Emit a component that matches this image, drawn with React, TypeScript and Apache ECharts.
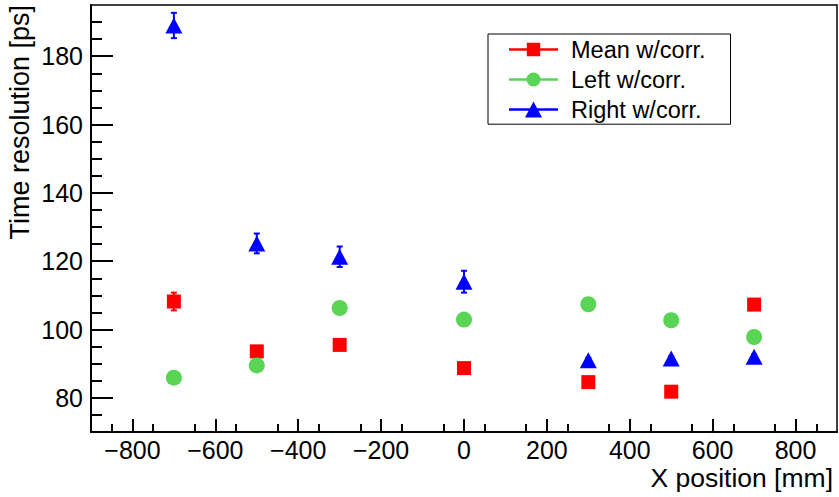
import React, { useEffect, useRef } from "react";
import * as echarts from "echarts";

const xPositions = [-700, -500, -300, 0, 300, 500, 700];
const meanValues = [108.2, 93.6, 95.5, 88.7, 84.6, 81.8, 107.3];
const meanErrors = [2.6, 1.5, 1.5, 1.5, 1.5, 1.5, 1.5];
const leftValues = [85.9, 89.5, 106.3, 102.9, 107.4, 102.7, 97.8];
const leftErrors = [1.5, 1.5, 1.5, 1.5, 1.5, 1.5, 1.5];
const rightValues = [189.0, 125.2, 121.3, 114.0, 91.0, 91.5, 92.0];
const rightErrors = [3.7, 2.9, 3.0, 3.2, 0.7, 0.7, 0.7];

const xMajorTicks = [-800, -600, -400, -200, 0, 200, 400, 600, 800];
const xMinorTicks = [-850, -750, -650, -550, -450, -350, -250, -150, -50, 50, 150, 250, 350, 450, 550, 650, 750, 850];
const yMajorTicks = [80, 100, 120, 140, 160, 180];
const yMinorTicks = [75, 85, 90, 95, 105, 110, 115, 125, 130, 135, 145, 150, 155, 165, 170, 175, 185, 190];

const seriesNames = ["Mean w/corr.", "Left w/corr.", "Right w/corr."];
const seriesColors = ["#ff0000", "#59d454", "#0000ff"];

const FONT = "Liberation Sans, Arial, Helvetica, sans-serif";

const iconSquare =
  "path://M0 0 L0 0 M49 16 L49 16 M0 6.8 L49 6.8 L49 9.2 L0 9.2 Z M17.8 1.3 L31.2 1.3 L31.2 14.7 L17.8 14.7 Z";
const iconCircle =
  "path://M0 0 L0 0 M49 16 L49 16 M0 6.8 L49 6.8 L49 9.2 L0 9.2 Z M31.5 8 A7 7 0 1 1 17.5 8 A7 7 0 1 1 31.5 8 Z";
const iconTriangle =
  "path://M0 0 L0 0 M49 16 L49 16 M0 6.8 L49 6.8 L49 9.2 L0 9.2 Z M24.5 0 L33 16 L16 16 Z";

function minusFmt(v: number) {
  return String(v).replace("-", "\u2212");
}

function errorSeries(values: number[], errors: number[], color: string) {
  return {
    type: "custom",
    silent: true,
    z: 1,
    data: xPositions.map((x, i) => [x, values[i], errors[i]]),
    encode: { x: 0, y: 1 },
    renderItem: (params: any, api: any) => {
      const x = api.value(0);
      const y = api.value(1);
      const e = api.value(2);
      const top = api.coord([x, y + e]);
      const bot = api.coord([x, y - e]);
      const cw = 3;
      const st = { stroke: color, lineWidth: 2 };
      return {
        type: "group",
        children: [
          { type: "line", shape: { x1: top[0], y1: top[1], x2: bot[0], y2: bot[1] }, style: st },
          { type: "line", shape: { x1: top[0] - cw, y1: top[1], x2: top[0] + cw, y2: top[1] }, style: st },
          { type: "line", shape: { x1: bot[0] - cw, y1: bot[1], x2: bot[0] + cw, y2: bot[1] }, style: st },
        ],
      };
    },
  };
}

export default function App() {
  const ref = useRef<HTMLDivElement>(null);

  useEffect(() => {
    if (!ref.current) return;
    const chart = echarts.init(ref.current, undefined, { renderer: "svg" });

    const axisCommon = {
      type: "value",
      splitLine: { show: false },
    };

    const option: any = {
      animation: false,
      backgroundColor: "#ffffff",
      textStyle: { fontFamily: FONT },
      grid: {
        left: 91,
        top: 5,
        width: 746,
        height: 427,
        show: true,
        borderColor: "#000",
        borderWidth: 1.5,
        backgroundColor: "transparent",
        containLabel: false,
      },
      xAxis: [
        {
          ...axisCommon,
          min: -900,
          max: 900,
          position: "bottom",
          axisLine: { show: true, onZero: false, lineStyle: { color: "#000", width: 2 } },
          axisTick: {
            show: true,
            inside: true,
            length: 13,
            customValues: xMajorTicks,
            lineStyle: { color: "#000", width: 2 },
          },
          axisLabel: {
            show: true,
            customValues: xMajorTicks,
            formatter: minusFmt,
            fontSize: 25,
            lineHeight: 18,
            color: "#000",
            fontFamily: FONT,
            margin: 9,
          },
        },
        {
          ...axisCommon,
          min: -900,
          max: 900,
          position: "bottom",
          axisLine: { show: false, onZero: false },
          axisTick: {
            show: true,
            inside: true,
            length: 8,
            customValues: xMinorTicks,
            lineStyle: { color: "#000", width: 2 },
          },
          axisLabel: { show: false },
        },
      ],
      yAxis: [
        {
          ...axisCommon,
          min: 70,
          max: 195,
          position: "left",
          axisLine: { show: true, onZero: false, lineStyle: { color: "#000", width: 2 } },
          axisTick: {
            show: true,
            inside: true,
            length: 22,
            customValues: yMajorTicks,
            lineStyle: { color: "#000", width: 2 },
          },
          axisLabel: {
            show: true,
            customValues: yMajorTicks,
            fontSize: 25,
            lineHeight: 18,
            color: "#000",
            fontFamily: FONT,
            margin: 8,
          },
        },
        {
          ...axisCommon,
          min: 70,
          max: 195,
          position: "left",
          axisLine: { show: false, onZero: false },
          axisTick: {
            show: true,
            inside: true,
            length: 11,
            customValues: yMinorTicks,
            lineStyle: { color: "#000", width: 2 },
          },
          axisLabel: { show: false },
        },
      ],
      legend: {
        left: 488,
        top: 34,
        orient: "vertical",
        backgroundColor: "#fff",
        borderColor: "#000",
        borderWidth: 1,
        borderRadius: 0,
        padding: [3.5, 25, 2.7, 21],
        itemWidth: 49,
        itemHeight: 16,
        itemGap: 6,
        selectedMode: false,
        textStyle: {
          fontSize: 23.5,
          color: "#000",
          fontFamily: FONT,
          padding: [0, 0, 0, 8],
        },
        data: [
          { name: seriesNames[0], icon: iconSquare },
          { name: seriesNames[1], icon: iconCircle },
          { name: seriesNames[2], icon: iconTriangle },
        ],
      },
      graphic: [
        {
          type: "text",
          x: 833,
          y: 468,
          style: {
            text: "X position [mm]",
            fontSize: 26.5,
            lineHeight: 20,
            fontFamily: FONT,
            fill: "#000",
            align: "right",
            verticalAlign: "top",
          },
        },
        {
          type: "text",
          x: 6,
          y: 5,
          rotation: Math.PI / 2,
          style: {
            text: "Time resolution [ps]",
            fontSize: 27,
            fontFamily: FONT,
            fill: "#000",
            align: "right",
            verticalAlign: "top",
          },
        },
      ],
      series: [
        errorSeries(meanValues, meanErrors, seriesColors[0]),
        errorSeries(leftValues, leftErrors, seriesColors[1]),
        errorSeries(rightValues, rightErrors, seriesColors[2]),
        {
          name: seriesNames[0],
          type: "scatter",
          z: 3,
          symbol: "rect",
          symbolSize: 14,
          itemStyle: { color: seriesColors[0], opacity: 1 },
          data: xPositions.map((x, i) => [x, meanValues[i]]),
        },
        {
          name: seriesNames[1],
          type: "scatter",
          z: 3,
          symbol: "circle",
          symbolSize: 16,
          itemStyle: { color: seriesColors[1], opacity: 1 },
          data: xPositions.map((x, i) => [x, leftValues[i]]),
        },
        {
          name: seriesNames[2],
          type: "scatter",
          z: 3,
          symbol: "triangle",
          symbolSize: [17, 16],
          itemStyle: { color: seriesColors[2], opacity: 1 },
          data: xPositions.map((x, i) => [x, rightValues[i]]),
        },
      ],
    };

    chart.setOption(option);
    return () => chart.dispose();
  }, []);

  return (
    <div
      ref={ref}
      style={{ position: "fixed", left: 0, top: 0, width: 839, height: 497, background: "#fff" }}
    />
  );
}
